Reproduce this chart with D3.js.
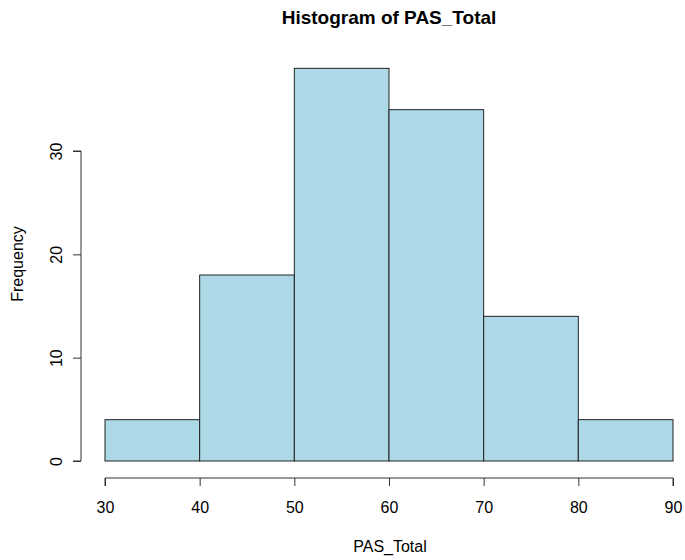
<!DOCTYPE html>
<html>
<head>
<meta charset="utf-8">
<script src="https://cdn.jsdelivr.net/npm/d3@7"></script>
<style>
  body { margin: 0; background: #fff; }
  text { font-family: 'Liberation Sans', Arial, sans-serif; fill: #000; }
</style>
</head>
<body>
<div id="chart"></div>
<script>
// histogram bins and counts
var binStarts = [30, 40, 50, 60, 70, 80]
var binWidth = 10
var counts = [4, 18, 38, 34, 14, 4]
var xTicks = [30, 40, 50, 60, 70, 80, 90]
var yTicks = [0, 10, 20, 30]

var width = 685
var height = 560

var svg = d3
  .select('#chart')
  .append('svg')
  .attr('width', width)
  .attr('height', height)

var xPositionScale = d3.scaleLinear().domain([30, 90]).range([105, 673])
var yPositionScale = d3.scaleLinear().domain([0, 30]).range([461, 151])

// bars
svg
  .selectAll('rect.bar')
  .data(binStarts)
  .enter()
  .append('rect')
  .attr('class', 'bar')
  .attr('x', d => xPositionScale(d))
  .attr('width', d => xPositionScale(d + binWidth) - xPositionScale(d))
  .attr('y', (d, i) => yPositionScale(counts[i]))
  .attr('height', (d, i) => yPositionScale(0) - yPositionScale(counts[i]))
  .attr('fill', '#ADD8E6')
  .attr('stroke', '#222')
  .attr('stroke-width', 1)

/* axes */
var xAxis = d3.axisBottom(xPositionScale).tickValues(xTicks).tickSize(8)
var xg = svg
  .append('g')
  .attr('class', 'axis x-axis')
  .attr('transform', 'translate(0,478)')
  .call(xAxis)

var yAxis = d3.axisLeft(yPositionScale).tickValues(yTicks).tickSize(8)
var yg = svg
  .append('g')
  .attr('class', 'axis y-axis')
  .attr('transform', 'translate(81,0)')
  .call(yAxis)

svg.selectAll('.axis path').attr('stroke', '#333').attr('stroke-width', 1)
svg.selectAll('.axis line').attr('stroke', '#333').attr('stroke-width', 1)
svg.selectAll('.axis text').style('font-size', '16px').attr('fill', '#000')

// outer ticks: R draws the axis line only between end ticks
xg.select('path.domain').attr('d', `M${xPositionScale(30)},8V0H${xPositionScale(90)}V8`)
yg.select('path.domain').attr('d', `M-8,${yPositionScale(0)}H0V${yPositionScale(30)}H-8`)

// rotated y tick labels
yg.selectAll('.tick text')
  .attr('x', 0)
  .attr('dy', 0)
  .attr('text-anchor', 'middle')
  .attr('transform', 'translate(-19,0) rotate(-90)')

xg.selectAll('.tick text').attr('y', 34.5).attr('dy', 0)

/* titles */
svg
  .append('text')
  .attr('x', 389)
  .attr('y', 24)
  .attr('text-anchor', 'middle')
  .style('font-size', '19px')
  .style('font-weight', 'bold')
  .text('Histogram of PAS_Total')

svg
  .append('text')
  .attr('x', 390)
  .attr('y', 552)
  .attr('text-anchor', 'middle')
  .style('font-size', '16px')
  .text('PAS_Total')

svg
  .append('text')
  .attr('transform', 'translate(22.5,264) rotate(-90)')
  .attr('text-anchor', 'middle')
  .style('font-size', '16px')
  .text('Frequency')
</script>
</body>
</html>
